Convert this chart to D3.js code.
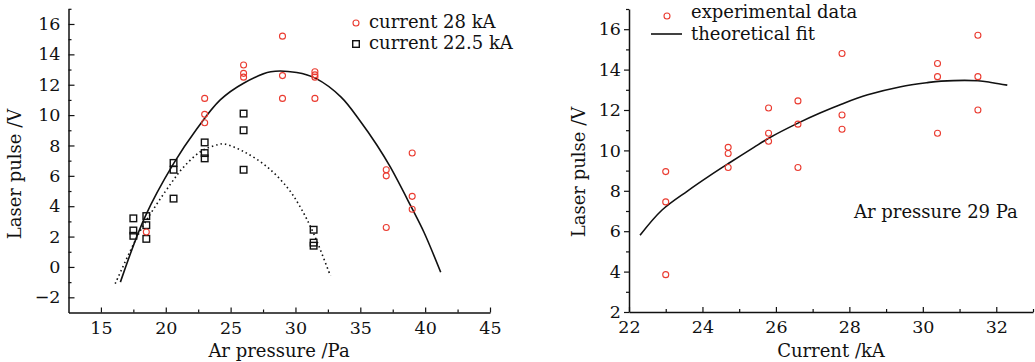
<!DOCTYPE html>
<html>
<head>
<meta charset="utf-8">
<script src="https://cdn.jsdelivr.net/npm/d3@7"></script>
<style>
body { margin: 0; background: #fff; }
text { font-family: "DejaVu Serif", serif; font-size: 18px; fill: #111; }
.domain { stroke: #111; stroke-width: 1.5; }
.tick line { stroke: #111; stroke-width: 1.2; }
</style>
</head>
<body>
<svg id="fig" width="1035" height="362"></svg>
<script>
//////////////////////////////////////
// Data

// left panel: laser pulse vs Ar pressure
const cur28 = [[29,15.2],[26,13.3],[26,12.75],[26,12.5],[29,12.6],[31.5,12.85],[31.5,12.65],[31.5,12.5],
	[23,11.1],[29,11.1],[31.5,11.1],[23,10.05],[23,9.5],[18.5,2.3],[37,6.4],[37,6.0],[37,2.6],
	[39,7.5],[39,4.65],[39,3.8]];
const cur225 = [[17.5,3.2],[17.5,2.4],[17.5,2.05],[18.5,3.35],[18.5,2.75],[18.5,1.85],[20.6,6.85],
	[20.6,6.4],[20.6,4.5],[23,8.2],[23,7.5],[23,7.15],[26,10.1],[26,9.0],[26,6.4],[31.4,2.45],
	[31.4,1.6],[31.4,1.4]];
const fit28 = [[16.5,-1.0],[18.4,3.3],[20.6,6.8],[22.4,9.1],[24.2,11.0],[26.0,12.1],[28.1,12.85],
	[30.1,12.8],[31.6,12.4],[33.5,11.2],[35.0,9.6],[36.3,8.0],[37.3,6.6],[38.9,4.0],[39.9,2.3],
	[41.2,-0.35]];
const fit225 = [[16.1,-1.1],[17.8,2.0],[18.6,3.2],[20.4,5.5],[21.4,6.6],[22.7,7.6],[24.0,8.05],
	[24.5,8.1],[26.0,7.6],[27.8,6.6],[29.4,5.2],[30.4,3.9],[31.4,2.2],[32.7,-0.6]];

// right panel: laser pulse vs current, 29 Pa
const expData = [[23,8.95],[23,7.45],[23,3.85],[24.7,10.15],[24.7,9.85],[24.7,9.15],[25.8,12.1],
	[25.8,10.85],[25.8,10.45],[26.6,12.45],[26.6,11.3],[26.6,9.15],[27.8,14.8],[27.8,11.75],
	[27.8,11.05],[30.4,14.3],[30.4,13.65],[30.4,10.85],[31.5,15.7],[31.5,13.65],[31.5,12.0]];
const theoFit = [[22.3,5.8],[22.9,7.05],[23.6,8.0],[24.2,8.75],[24.75,9.4],[25.4,10.15],[25.85,10.65],
	[26.6,11.35],[27.2,11.85],[27.8,12.3],[28.5,12.75],[29.4,13.15],[30.1,13.35],[30.5,13.43],
	[31.5,13.45],[31.9,13.35],[32.3,13.23]];

const pressTicks = [15,20,25,30,35,40,45];
const pressMinor = [17.5,22.5,27.5,32.5,37.5,42.5];
const voltTicksA = [-2,0,2,4,6,8,10,12,14,16];
const voltMinorA = [-1,1,3,5,7,9,11,13,15,17];
const currTicks = [22,24,26,28,30,32];
const currMinor = [23,25,27,29,31,33];
const voltTicksB = [2,4,6,8,10,12,14,16];
const voltMinorB = [3,5,7,9,11,13,15,17];

const red = "#ea3b30";

//////////////////////////////////////
// Panels

const svg = d3.select("#fig");

var xA = d3.scaleLinear().domain([12.5, 45]).range([68.5, 490]);
var yA = d3.scaleLinear().domain([-3, 17]).range([312.5, 8.8]);
var xB = d3.scaleLinear().domain([22, 33]).range([629, 1033]);
var yB = d3.scaleLinear().domain([2, 17]).range([312, 9]);

function styleTicks(sel) {
	sel.attr("font-family", null).attr("font-size", null);
	sel.selectAll("text")
		.style("font-family", '"DejaVu Serif", serif')
		.style("font-size", "17.5px").attr("fill", "#111");
}

function drawAxes(x, y, xt, xm, yt, ym, yOut) {
	var bottom = y.range()[0], left = x.range()[0];
	// minor ticks first
	svg.append("g").attr("transform", "translate(0," + bottom + ")")
		.call(d3.axisBottom(x).tickValues(xm).tickSize(-3).tickFormat(""))
		.select(".domain").remove();
	svg.append("g").attr("transform", "translate(" + left + ",0)")
		.call(d3.axisLeft(y).tickValues(ym).tickSize(yOut ? 3 : -3).tickFormat(""))
		.select(".domain").remove();
	// major ticks + labels
	svg.append("g").attr("transform", "translate(0," + bottom + ")")
		.call(d3.axisBottom(x).tickValues(xt).tickSize(-5).tickSizeOuter(0).tickPadding(9))
		.call(styleTicks);
	svg.append("g").attr("transform", "translate(" + left + ",0)")
		.call(d3.axisLeft(y).tickValues(yt).tickSize(yOut ? 5 : -6).tickSizeOuter(0).tickPadding(yOut ? 3 : 8))
		.call(styleTicks);
}

drawAxes(xA, yA, pressTicks, pressMinor, voltTicksA, voltMinorA, false);
drawAxes(xB, yB, currTicks, currMinor, voltTicksB, voltMinorB, true);

// axis titles
svg.append("text").attr("x", 279).attr("y", 357).attr("text-anchor", "middle").text("Ar pressure /Pa");
svg.append("text").attr("x", 831).attr("y", 357).attr("text-anchor", "middle").text("Current /kA");
svg.append("text").attr("transform", "translate(21,174) rotate(-90)").attr("text-anchor", "middle").text("Laser pulse /V");
svg.append("text").attr("transform", "translate(585,172) rotate(-90)").attr("text-anchor", "middle").text("Laser pulse /V");

//////////////////////////////////////
// Curves

function lineFor(x, y) {
	return d3.line().x(function(d) { return x(d[0]); }).y(function(d) { return y(d[1]); }).curve(d3.curveCatmullRom.alpha(0.5));
}

svg.append("path").datum(fit28)
	.attr("d", lineFor(xA, yA))
	.attr("fill", "none").attr("stroke", "#111").attr("stroke-width", 1.6);

svg.append("path").datum(fit225)
	.attr("d", lineFor(xA, yA))
	.attr("fill", "none").attr("stroke", "#111").attr("stroke-width", 1.6)
	.attr("stroke-dasharray", "1.5,3");

svg.append("path").datum(theoFit)
	.attr("d", lineFor(xB, yB))
	.attr("fill", "none").attr("stroke", "#111").attr("stroke-width", 1.6);

//////////////////////////////////////
// Points

svg.append("g").selectAll("rect").data(cur225).enter().append("rect")
	.attr("x", function(d) { return xA(d[0]) - 3.3; })
	.attr("y", function(d) { return yA(d[1]) - 3.3; })
	.attr("width", 6.6).attr("height", 6.6)
	.attr("fill", "none").attr("stroke", "#111").attr("stroke-width", 1.4);

svg.append("g").selectAll("circle").data(cur28).enter().append("circle")
	.attr("cx", function(d) { return xA(d[0]); })
	.attr("cy", function(d) { return yA(d[1]); })
	.attr("r", 3).attr("fill", "none").attr("stroke", red).attr("stroke-width", 1.1);

svg.append("g").selectAll("circle").data(expData).enter().append("circle")
	.attr("cx", function(d) { return xB(d[0]); })
	.attr("cy", function(d) { return yB(d[1]); })
	.attr("r", 3).attr("fill", "none").attr("stroke", red).attr("stroke-width", 1.1);

//////////////////////////////////////
// Legends

svg.append("circle").attr("cx", 356).attr("cy", 23).attr("r", 3).attr("fill", "none").attr("stroke", red).attr("stroke-width", 1.1);
svg.append("text").attr("x", 369).attr("y", 27.5).text("current 28 kA");
svg.append("rect").attr("x", 352.7).attr("y", 40.7).attr("width", 6.6).attr("height", 6.6)
	.attr("fill", "none").attr("stroke", "#111").attr("stroke-width", 1.4);
svg.append("text").attr("x", 369).attr("y", 49).text("current 22.5 kA");

svg.append("circle").attr("cx", 667).attr("cy", 16).attr("r", 3).attr("fill", "none").attr("stroke", red).attr("stroke-width", 1.1);
svg.append("text").attr("x", 691).attr("y", 18).text("experimental data");
svg.append("line").attr("x1", 651).attr("x2", 682).attr("y1", 34).attr("y2", 34).attr("stroke", "#111").attr("stroke-width", 1.6);
svg.append("text").attr("x", 691).attr("y", 39.5).text("theoretical fit");

svg.append("text").attr("x", 854).attr("y", 218).text("Ar pressure 29 Pa");
</script>
</body>
</html>
